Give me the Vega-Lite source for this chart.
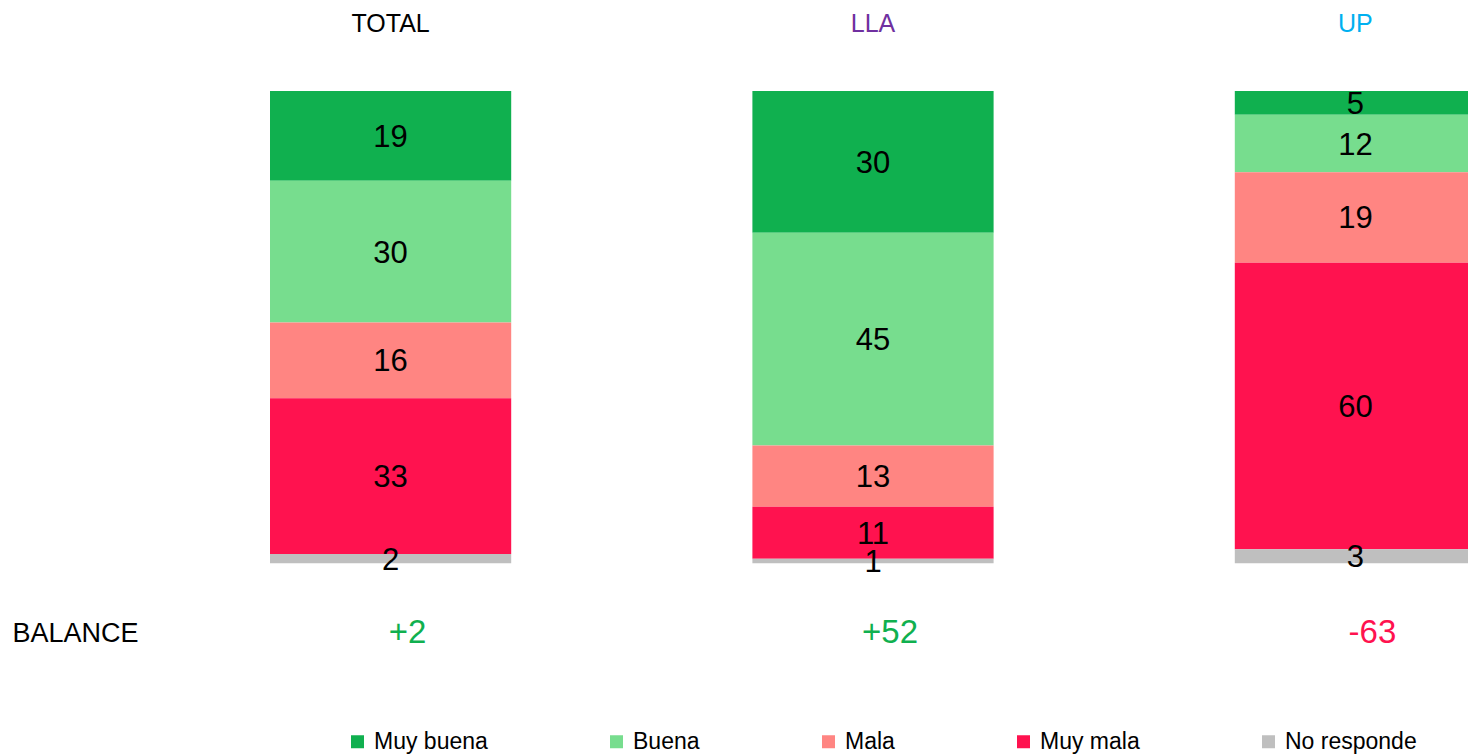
{
  "$schema": "https://vega.github.io/schema/vega-lite/v6.json",
  "width": 1468,
  "height": 472.5,
  "autosize": {"type": "none"},
  "padding": {"top": 91, "left": 0, "right": 0, "bottom": 190.5},
  "background": "white",
  "config": {
    "view": {"stroke": null},
    "font": "Liberation Sans",
    "text": {"font": "Liberation Sans"}
  },
  "datasets": {
    "respuestas": [
      {"grupo": "TOTAL", "categoria": "Muy buena", "orden": 1, "valor": 19},
      {"grupo": "TOTAL", "categoria": "Buena", "orden": 2, "valor": 30},
      {"grupo": "TOTAL", "categoria": "Mala", "orden": 3, "valor": 16},
      {"grupo": "TOTAL", "categoria": "Muy mala", "orden": 4, "valor": 33},
      {"grupo": "TOTAL", "categoria": "No responde", "orden": 5, "valor": 2},
      {"grupo": "LLA", "categoria": "Muy buena", "orden": 1, "valor": 30},
      {"grupo": "LLA", "categoria": "Buena", "orden": 2, "valor": 45},
      {"grupo": "LLA", "categoria": "Mala", "orden": 3, "valor": 13},
      {"grupo": "LLA", "categoria": "Muy mala", "orden": 4, "valor": 11},
      {"grupo": "LLA", "categoria": "No responde", "orden": 5, "valor": 1},
      {"grupo": "UP", "categoria": "Muy buena", "orden": 1, "valor": 5},
      {"grupo": "UP", "categoria": "Buena", "orden": 2, "valor": 12},
      {"grupo": "UP", "categoria": "Mala", "orden": 3, "valor": 19},
      {"grupo": "UP", "categoria": "Muy mala", "orden": 4, "valor": 60},
      {"grupo": "UP", "categoria": "No responde", "orden": 5, "valor": 3}
    ],
    "balance": [
      {"grupo": "TOTAL", "balance": 2, "texto": "+2"},
      {"grupo": "LLA", "balance": 52, "texto": "+52"},
      {"grupo": "UP", "balance": -63, "texto": "-63"}
    ]
  },
  "encoding": {
    "x": {
      "field": "grupo",
      "type": "nominal",
      "sort": ["TOTAL", "LLA", "UP"],
      "scale": {"range": [270, 1476], "paddingInner": 0.5, "paddingOuter": 0},
      "axis": {
        "orient": "top",
        "title": null,
        "domain": false,
        "ticks": false,
        "tickSize": 0,
        "labelPadding": 68,
        "labelBaseline": "middle",
        "labelAngle": 0,
        "labelFontSize": 25,
        "labelFont": "Liberation Sans",
        "labelColor": {"expr": "datum.value == 'LLA' ? '#7030A0' : datum.value == 'UP' ? '#00B0F0' : '#000000'"}
      }
    }
  },
  "layer": [
    {
      "data": {"name": "respuestas"},
      "mark": {"type": "bar", "clip": true},
      "encoding": {
        "y": {
          "field": "valor",
          "type": "quantitative",
          "stack": "normalize",
          "scale": {"domain": [0, 1], "nice": false, "zero": false},
          "axis": {
            "orient": "left",
            "title": "BALANCE",
            "titleAngle": 0,
            "titleX": 12,
            "titleY": 542,
            "titleAlign": "left",
            "titleBaseline": "middle",
            "titleFontSize": 27,
            "titleFontWeight": "normal",
            "titleFont": "Liberation Sans",
            "titleColor": "#000000",
            "labels": false,
            "ticks": false,
            "domain": false,
            "grid": false
          }
        },
        "color": {
          "field": "categoria",
          "type": "nominal",
          "scale": {
            "domain": ["Muy buena", "Buena", "Mala", "Muy mala", "No responde"],
            "range": ["#10B04F", "#77DD8E", "#FF8582", "#FF124F", "#BFBFBF"]
          },
          "legend": {
            "title": null,
            "orient": "none",
            "direction": "horizontal",
            "columns": 5,
            "legendX": 346,
            "legendY": 639,
            "padding": 0,
            "symbolType": "square",
            "symbolSize": 169,
            "symbolStrokeWidth": 0,
            "symbolOpacity": 1,
            "labelFontSize": 23,
            "labelFont": "Liberation Sans",
            "labelColor": "#000000",
            "labelOffset": 5,
            "columnPadding": 117,
            "labelLimit": 400
          }
        },
        "order": {"field": "orden", "sort": "descending"}
      }
    },
    {
      "data": {"name": "respuestas"},
      "mark": {"type": "text", "fontSize": 31, "color": "#000000", "baseline": "middle", "align": "center", "dy": 2},
      "encoding": {
        "y": {
          "field": "valor",
          "type": "quantitative",
          "stack": "normalize",
          "bandPosition": 0.5
        },
        "detail": {"field": "categoria", "type": "nominal"},
        "order": {"field": "orden", "sort": "descending"},
        "text": {"field": "valor", "type": "quantitative"}
      }
    },
    {
      "data": {"name": "balance"},
      "mark": {"type": "text", "fontSize": 33, "baseline": "middle", "align": "center", "dx": 17},
      "encoding": {
        "y": {"datum": -0.147, "type": "quantitative"},
        "text": {"field": "texto", "type": "nominal"},
        "color": {
          "condition": {"test": "datum.balance > 0", "value": "#10B04F"},
          "value": "#FF124F"
        }
      }
    }
  ]
}
